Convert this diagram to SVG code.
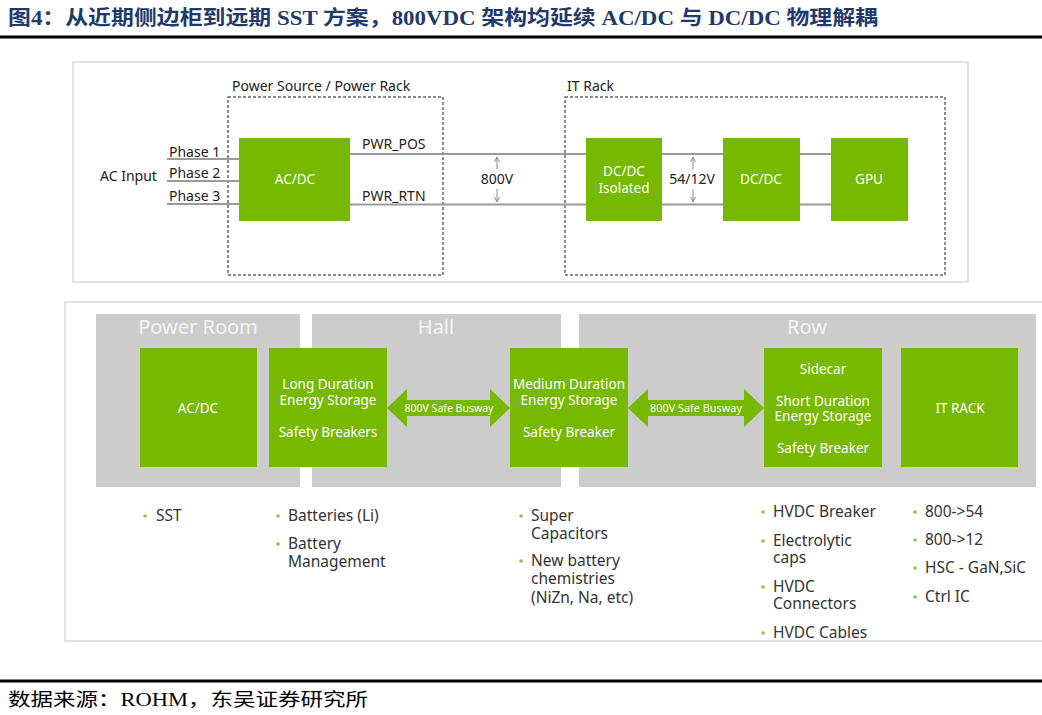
<svg xmlns="http://www.w3.org/2000/svg" width="1042" height="715" viewBox="0 0 1042 715">
<defs>
<style>
.t{font-family:"Noto Sans","DejaVu Sans",sans-serif;font-size:14px;fill:#222}
.w{font-family:"Noto Sans","DejaVu Sans",sans-serif;font-size:13.5px;fill:#fff;text-anchor:middle}
.b{font-family:"Noto Sans","DejaVu Sans",sans-serif;font-size:15.5px;fill:#333}
.zone{font-family:"Noto Sans","DejaVu Sans",sans-serif;font-size:20px;fill:#f4f4f4;text-anchor:middle}
.g{fill:#76b900}
.wire{stroke:#9a9a9a;stroke-width:2;fill:none}
.dash{stroke:#666;stroke-width:1.5;stroke-dasharray:3 2;fill:none}
.va{stroke:#888;stroke-width:1;fill:none}
.dot{fill:#8cc63f}
</style>
<marker id="ah" viewBox="0 0 6 6" refX="5" refY="3" markerWidth="6" markerHeight="6" orient="auto" markerUnits="userSpaceOnUse"><path d="M0,0.5 L5,3 L0,5.5" fill="none" stroke="#888" stroke-width="1"/></marker>
</defs>
<rect width="1042" height="715" fill="#fff"/>
<text x="8" y="25" font-family="'Liberation Serif','Noto Sans CJK SC',serif" font-weight="bold" font-size="20" fill="#1f3a6b" textLength="870" lengthAdjust="spacingAndGlyphs">图4：从近期侧边柜到远期 SST 方案，800VDC 架构均延续 AC/DC 与 DC/DC 物理解耦</text>
<rect x="0" y="35.5" width="1042" height="3" fill="#000"/>

<!-- top panel -->
<rect x="73" y="62" width="895" height="220" fill="#fff" stroke="#d8d8d8" stroke-width="1.5"/>
<g id="power-source-box">
<rect class="dash" x="228" y="97" width="215" height="178"/>
<text class="t" x="232" y="91">Power Source / Power Rack</text>
</g>
<g id="it-rack-box">
<rect class="dash" x="565" y="97" width="380" height="178"/>
<text class="t" x="567" y="91">IT Rack</text>
</g>
<g id="connectors-top">
<line class="wire" x1="167" y1="159" x2="239" y2="159"/>
<line class="wire" x1="167" y1="181" x2="239" y2="181"/>
<line class="wire" x1="167" y1="204" x2="239" y2="204"/>
<line class="wire" x1="350" y1="154" x2="586" y2="154"/>
<line class="wire" x1="350" y1="204.5" x2="586" y2="204.5"/>
<line class="wire" x1="662" y1="154" x2="723" y2="154"/>
<line class="wire" x1="662" y1="204.5" x2="723" y2="204.5"/>
<line class="wire" x1="800" y1="154" x2="831" y2="154"/>
<line class="wire" x1="800" y1="204.5" x2="831" y2="204.5"/>
<line class="va" x1="497" y1="169" x2="497" y2="157" marker-end="url(#ah)"/>
<line class="va" x1="497" y1="189" x2="497" y2="202" marker-end="url(#ah)"/>
<line class="va" x1="693" y1="169" x2="693" y2="157" marker-end="url(#ah)"/>
<line class="va" x1="693" y1="189" x2="693" y2="202" marker-end="url(#ah)"/>
</g>
<text class="t" x="100" y="181">AC Input</text>
<text class="t" x="169" y="157">Phase 1</text>
<text class="t" x="169" y="178">Phase 2</text>
<text class="t" x="169" y="201">Phase 3</text>
<text class="t" x="362" y="149">PWR_POS</text>
<text class="t" x="362" y="201">PWR_RTN</text>
<text class="t" x="497" y="184" text-anchor="middle" font-size="15">800V</text>
<text class="t" x="692" y="184" text-anchor="middle" font-size="15">54/12V</text>
<g id="acdc-top"><rect class="g" x="239" y="138" width="111" height="83"/><text class="w" x="295" y="184">AC/DC</text></g>
<g id="dcdc-isolated"><rect class="g" x="586" y="138" width="76" height="83"/><text class="w" x="624" y="176">DC/DC<tspan x="624" dy="17">Isolated</tspan></text></g>
<g id="dcdc"><rect class="g" x="723" y="138" width="77" height="83"/><text class="w" x="761" y="184">DC/DC</text></g>
<g id="gpu"><rect class="g" x="831" y="138" width="77" height="83"/><text class="w" x="869" y="184">GPU</text></g>

<!-- bottom panel -->
<rect x="65" y="302" width="990" height="339" fill="#fff" stroke="#d8d8d8" stroke-width="1.5"/>
<g id="zone-power-room"><rect x="96" y="314" width="204" height="173" fill="#cccccc"/><text class="zone" x="198" y="334">Power Room</text></g>
<g id="zone-hall"><rect x="312" y="314" width="249" height="173" fill="#cccccc"/><text class="zone" x="436" y="334">Hall</text></g>
<g id="zone-row"><rect x="579" y="314" width="457" height="173" fill="#cccccc"/><text class="zone" x="807" y="334">Row</text></g>
<g id="connectors-bottom">
<polygon class="g" points="387,408 407,389 407,400 490,400 490,389 510,408 490,427 490,416 407,416 407,427"/>
<polygon class="g" points="628,408 648,389 648,400 744,400 744,389 764,408 744,427 744,416 648,416 648,427"/>
<text x="449" y="412" font-family="'Noto Sans','DejaVu Sans',sans-serif" font-size="11.5" fill="#fff" text-anchor="middle" textLength="89" lengthAdjust="spacingAndGlyphs">800V Safe Busway</text>
<text x="696" y="412" font-family="'Noto Sans','DejaVu Sans',sans-serif" font-size="11.5" fill="#fff" text-anchor="middle" textLength="92" lengthAdjust="spacingAndGlyphs">800V Safe Busway</text>
</g>
<g id="acdc-bottom"><rect class="g" x="140" y="348" width="117" height="119"/><text class="w" x="198" y="413">AC/DC</text></g>
<g id="long-duration"><rect class="g" x="269" y="348" width="118" height="119"/><text class="w" x="328" y="389">Long Duration<tspan x="328" dy="16">Energy Storage</tspan><tspan x="328" dy="32">Safety Breakers</tspan></text></g>
<g id="medium-duration"><rect class="g" x="510" y="348" width="118" height="119"/><text class="w" x="569" y="389">Medium Duration<tspan x="569" dy="16">Energy Storage</tspan><tspan x="569" dy="32">Safety Breaker</tspan></text></g>
<g id="sidecar"><rect class="g" x="764" y="348" width="118" height="119"/><text class="w" x="823" y="374">Sidecar<tspan x="823" dy="32">Short Duration</tspan><tspan x="823" dy="15">Energy Storage</tspan><tspan x="823" dy="32">Safety Breaker</tspan></text></g>
<g id="it-rack"><rect class="g" x="901" y="348" width="117" height="119"/><text class="w" x="960" y="413">IT RACK</text></g>

<g id="bullets">
<circle class="dot" cx="145" cy="516" r="1.8"/><text class="b" x="156" y="521">SST</text>
<circle class="dot" cx="278" cy="516" r="1.8"/><text class="b" x="288" y="521">Batteries (Li)</text>
<circle class="dot" cx="278" cy="544" r="1.8"/><text class="b" x="288" y="549">Battery<tspan x="288" dy="18">Management</tspan></text>
<circle class="dot" cx="521" cy="516" r="1.8"/><text class="b" x="531" y="521">Super<tspan x="531" dy="18">Capacitors</tspan></text>
<circle class="dot" cx="521" cy="561" r="1.8"/><text class="b" x="531" y="566">New battery<tspan x="531" dy="18">chemistries</tspan><tspan x="531" dy="19">(NiZn, Na, etc)</tspan></text>
<circle class="dot" cx="763" cy="512" r="1.8"/><text class="b" x="773" y="517">HVDC Breaker</text>
<circle class="dot" cx="763" cy="541" r="1.8"/><text class="b" x="773" y="546">Electrolytic<tspan x="773" dy="17">caps</tspan></text>
<circle class="dot" cx="763" cy="587" r="1.8"/><text class="b" x="773" y="592">HVDC<tspan x="773" dy="17">Connectors</tspan></text>
<circle class="dot" cx="763" cy="633" r="1.8"/><text class="b" x="773" y="638">HVDC Cables</text>
<circle class="dot" cx="915" cy="512" r="1.8"/><text class="b" x="925" y="517">800-&gt;54</text>
<circle class="dot" cx="915" cy="540" r="1.8"/><text class="b" x="925" y="545">800-&gt;12</text>
<circle class="dot" cx="915" cy="568" r="1.8"/><text class="b" x="925" y="573">HSC - GaN,SiC</text>
<circle class="dot" cx="915" cy="597" r="1.8"/><text class="b" x="925" y="602">Ctrl IC</text>
</g>

<rect x="0" y="679.5" width="1042" height="3" fill="#000"/>
<text x="8" y="706" font-family="'Liberation Serif','Noto Sans CJK SC',serif" font-size="18" fill="#000" textLength="360" lengthAdjust="spacingAndGlyphs">数据来源：ROHM，东吴证券研究所</text>
</svg>
